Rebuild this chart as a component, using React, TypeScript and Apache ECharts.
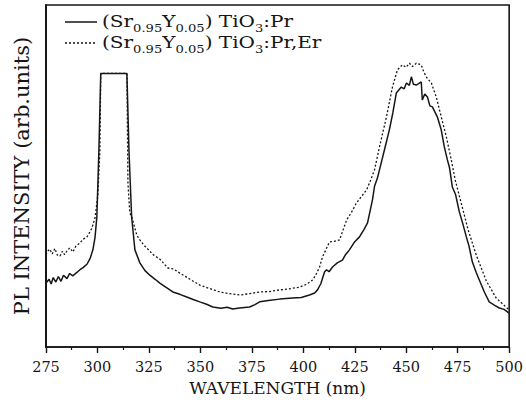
import React, { useEffect, useRef } from "react";
import * as echarts from "echarts";

// ---- data ----
const seriesNames = ["(Sr0.95Y0.05)TiO3:Pr", "(Sr0.95Y0.05)TiO3:Pr,Er"];

const prWavelength = [
  275.0, 276.5, 277.5, 278.5, 279.8, 281.0, 282.3, 283.5, 285.2, 286.5, 288.0, 290.0, 291.5, 293.0, 294.9,
  296.5, 297.8, 298.8, 299.7, 300.7, 301.6, 314.3, 315.3, 316.6, 318.2, 320.6, 323.0, 325.4, 328.0, 330.3,
  333.0, 336.6, 340.0, 343.4, 346.5, 349.7, 353.0, 356.0, 360.0, 363.0, 365.7, 369.0, 373.9, 376.5, 378.8,
  383.0, 388.5, 394.8, 399.0, 403.0, 405.5, 406.9, 408.5, 410.3, 411.3, 412.5, 414.2, 416.5, 419.0, 420.5,
  422.4, 425.0, 427.3, 429.5, 431.2, 433.6, 434.6, 436.0, 437.0, 439.4, 441.8, 443.5, 445.2, 447.6, 449.0,
  450.1, 451.5, 452.5, 453.5, 454.9, 456.0, 457.3, 457.8, 459.0, 460.3, 461.5, 462.7, 465.1, 467.0, 468.5,
  470.0, 471.0, 472.4, 474.0, 475.8, 477.5, 479.2, 480.5, 482.1, 484.0, 485.5, 488.0, 490.3, 493.0, 495.2,
  497.5, 500.0,
];
const prIntensity = [
  18.7, 19.8, 18.4, 20.3, 19.0, 20.6, 19.2, 21.0, 20.0, 21.5, 20.8, 21.8, 22.6, 23.2, 24.2,
  26.0, 28.5, 32.0, 38.0, 57.6, 80.0, 80.0, 57.6, 38.0, 28.4, 24.6, 22.4, 21.0, 19.8, 18.7,
  17.6, 16.1, 15.4, 14.6, 13.9, 13.2, 12.5, 11.7, 11.3, 11.6, 11.1, 11.4, 11.7, 12.4, 13.2,
  13.6, 14.0, 14.3, 14.5, 15.2, 15.8, 16.7, 18.5, 21.9, 22.6, 22.0, 23.4, 24.6, 25.4, 27.0,
  28.4, 30.8, 32.2, 34.4, 36.3, 43.0, 47.0, 49.4, 51.8, 57.6, 63.5, 68.5, 74.3, 76.0, 75.5,
  77.2, 76.5, 79.0, 76.8, 76.6, 77.0, 77.5, 72.2, 74.0, 73.1, 70.5, 70.2, 67.3, 63.5, 58.5,
  54.7, 52.5, 46.8, 44.5, 39.5, 36.0, 32.2, 29.5, 24.9, 21.8, 19.6, 16.0, 13.2, 12.2, 11.4,
  11.0, 9.9,
];

const prErWavelength = [
  275.0, 275.5, 276.8, 278.0, 279.3, 280.5, 281.8, 283.0, 284.0, 285.2, 286.5, 288.1, 289.5, 291.5, 293.0,
  294.9, 296.2, 297.3, 298.8, 300.2, 301.2, 301.6, 314.3, 314.8, 315.7, 316.7, 319.1, 320.6, 322.5, 324.0,
  327.0, 330.3, 334.2, 337.0, 340.0, 345.0, 349.7, 354.0, 359.4, 364.0, 369.1, 374.0, 378.8, 383.5, 388.5,
  393.0, 398.2, 401.5, 404.5, 406.0, 407.9, 409.3, 411.0, 412.7, 415.0, 417.6, 419.5, 421.0, 423.5, 425.8,
  428.0, 430.7, 432.5, 434.6, 437.0, 440.4, 443.3, 445.7, 448.1, 450.0, 451.5, 453.0, 454.9, 457.3, 458.5,
  459.8, 462.2, 464.6, 467.0, 469.5, 471.9, 473.8, 476.7, 480.1, 484.0, 488.9, 493.7, 497.0, 500.0,
];
const prErIntensity = [
  27.0, 27.8, 28.6, 27.2, 28.8, 26.9, 26.6, 28.0, 27.0, 28.1, 29.0, 27.8, 29.5, 30.4, 31.5,
  32.2, 33.5, 34.8, 37.7, 44.4, 57.6, 80.0, 80.0, 48.0, 39.2, 38.0, 32.7, 31.3, 29.8, 28.9,
  27.0, 25.7, 23.1, 22.8, 21.6, 19.8, 18.1, 17.2, 16.1, 15.6, 15.2, 15.6, 16.1, 16.2, 16.7,
  17.0, 17.5, 18.3, 19.6, 21.0, 23.4, 26.3, 28.5, 30.7, 30.9, 31.3, 34.5, 37.1, 39.5, 42.1,
  43.8, 45.9, 48.5, 51.8, 58.5, 67.3, 76.0, 81.0, 82.5, 81.8, 83.0, 82.0, 83.0, 82.5, 80.5,
  78.9, 77.2, 73.1, 67.3, 61.4, 54.7, 48.8, 42.1, 34.2, 26.9, 19.3, 14.3, 12.5, 10.8,
];

const xMin = 275;
const xMax = 500;
const xStep = 25;

const FONT = "DejaVu Serif";
const INK = "#161616";

function zip(xs: number[], ys: number[]) {
  return xs.map((x, i) => [x, ys[i]]);
}

const legendRich = {
  m: { fontFamily: FONT, fontSize: 16, fill: INK, verticalAlign: "top" },
  s: { fontFamily: FONT, fontSize: 10.5, fill: INK, verticalAlign: "top", padding: [10, 0, 0, 0] },
};
const legendText1 = "{m|(Sr}{s|0.95}{m|Y}{s|0.05}{m|) TiO}{s|3}{m|:Pr}";
const legendText2 = "{m|(Sr}{s|0.95}{m|Y}{s|0.05}{m|) TiO}{s|3}{m|:Pr,Er}";

export default function App() {
  const ref = useRef<HTMLDivElement>(null);
  useEffect(() => {
    const chart = echarts.init(ref.current!, null, { renderer: "svg" });
    chart.setOption({
      animation: false,
      backgroundColor: "#ffffff",
      grid: {
        left: 46,
        right: 16,
        top: 5,
        bottom: 62,
        show: true,
        borderColor: INK,
        borderWidth: 1.6,
        backgroundColor: "transparent",
      },
      xAxis: {
        type: "value",
        min: xMin,
        max: xMax,
        interval: xStep,
        name: "WAVELENGTH (nm)",
        nameLocation: "middle",
        nameGap: 32,
        nameTextStyle: { fontFamily: FONT, fontSize: 17, color: INK },
        axisLine: { show: true, lineStyle: { color: INK, width: 1.6 } },
        axisTick: { show: true, inside: false, length: 6, lineStyle: { color: INK, width: 1.4 } },
        minorTick: { show: true, splitNumber: 2, length: 3, lineStyle: { color: INK, width: 1.2 } },
        axisLabel: { fontFamily: FONT, fontSize: 14.5, color: INK, margin: 12 },
        splitLine: { show: false },
      },
      yAxis: {
        type: "value",
        min: 0,
        max: 100,
        name: "PL INTENSITY (arb.units)",
        nameLocation: "middle",
        nameGap: 14,
        nameTextStyle: { fontFamily: FONT, fontSize: 21, color: INK },
        axisLine: { show: true, lineStyle: { color: INK, width: 2 } },
        axisTick: { show: false },
        axisLabel: { show: false },
        splitLine: { show: false },
      },
      series: [
        {
          name: seriesNames[0],
          type: "line",
          data: zip(prWavelength, prIntensity),
          symbol: "none",
          lineStyle: { color: INK, width: 1.5 },
        },
        {
          name: seriesNames[1],
          type: "line",
          data: zip(prErWavelength, prErIntensity),
          symbol: "none",
          lineStyle: { color: INK, width: 1.3, type: [2, 2] },
        },
      ],
      graphic: [
        {
          type: "line",
          shape: { x1: 65, y1: 22, x2: 97, y2: 22 },
          style: { stroke: INK, lineWidth: 1.5 },
        },
        {
          type: "line",
          shape: { x1: 65, y1: 43, x2: 97, y2: 43 },
          style: { stroke: INK, lineWidth: 1.3, lineDash: [2, 2] },
        },
        {
          type: "text",
          x: 102,
          y: 13,
          scaleX: 1.25,
          style: { text: legendText1, rich: legendRich, fill: INK, verticalAlign: "top" },
        },
        {
          type: "text",
          x: 102,
          y: 34,
          scaleX: 1.25,
          style: { text: legendText2, rich: legendRich, fill: INK, verticalAlign: "top" },
        },
      ],
    });
    return () => chart.dispose();
  }, []);
  return (
    <div
      ref={ref}
      style={{ position: "absolute", left: 0, top: 0, width: 526, height: 409, background: "#fff" }}
    />
  );
}
